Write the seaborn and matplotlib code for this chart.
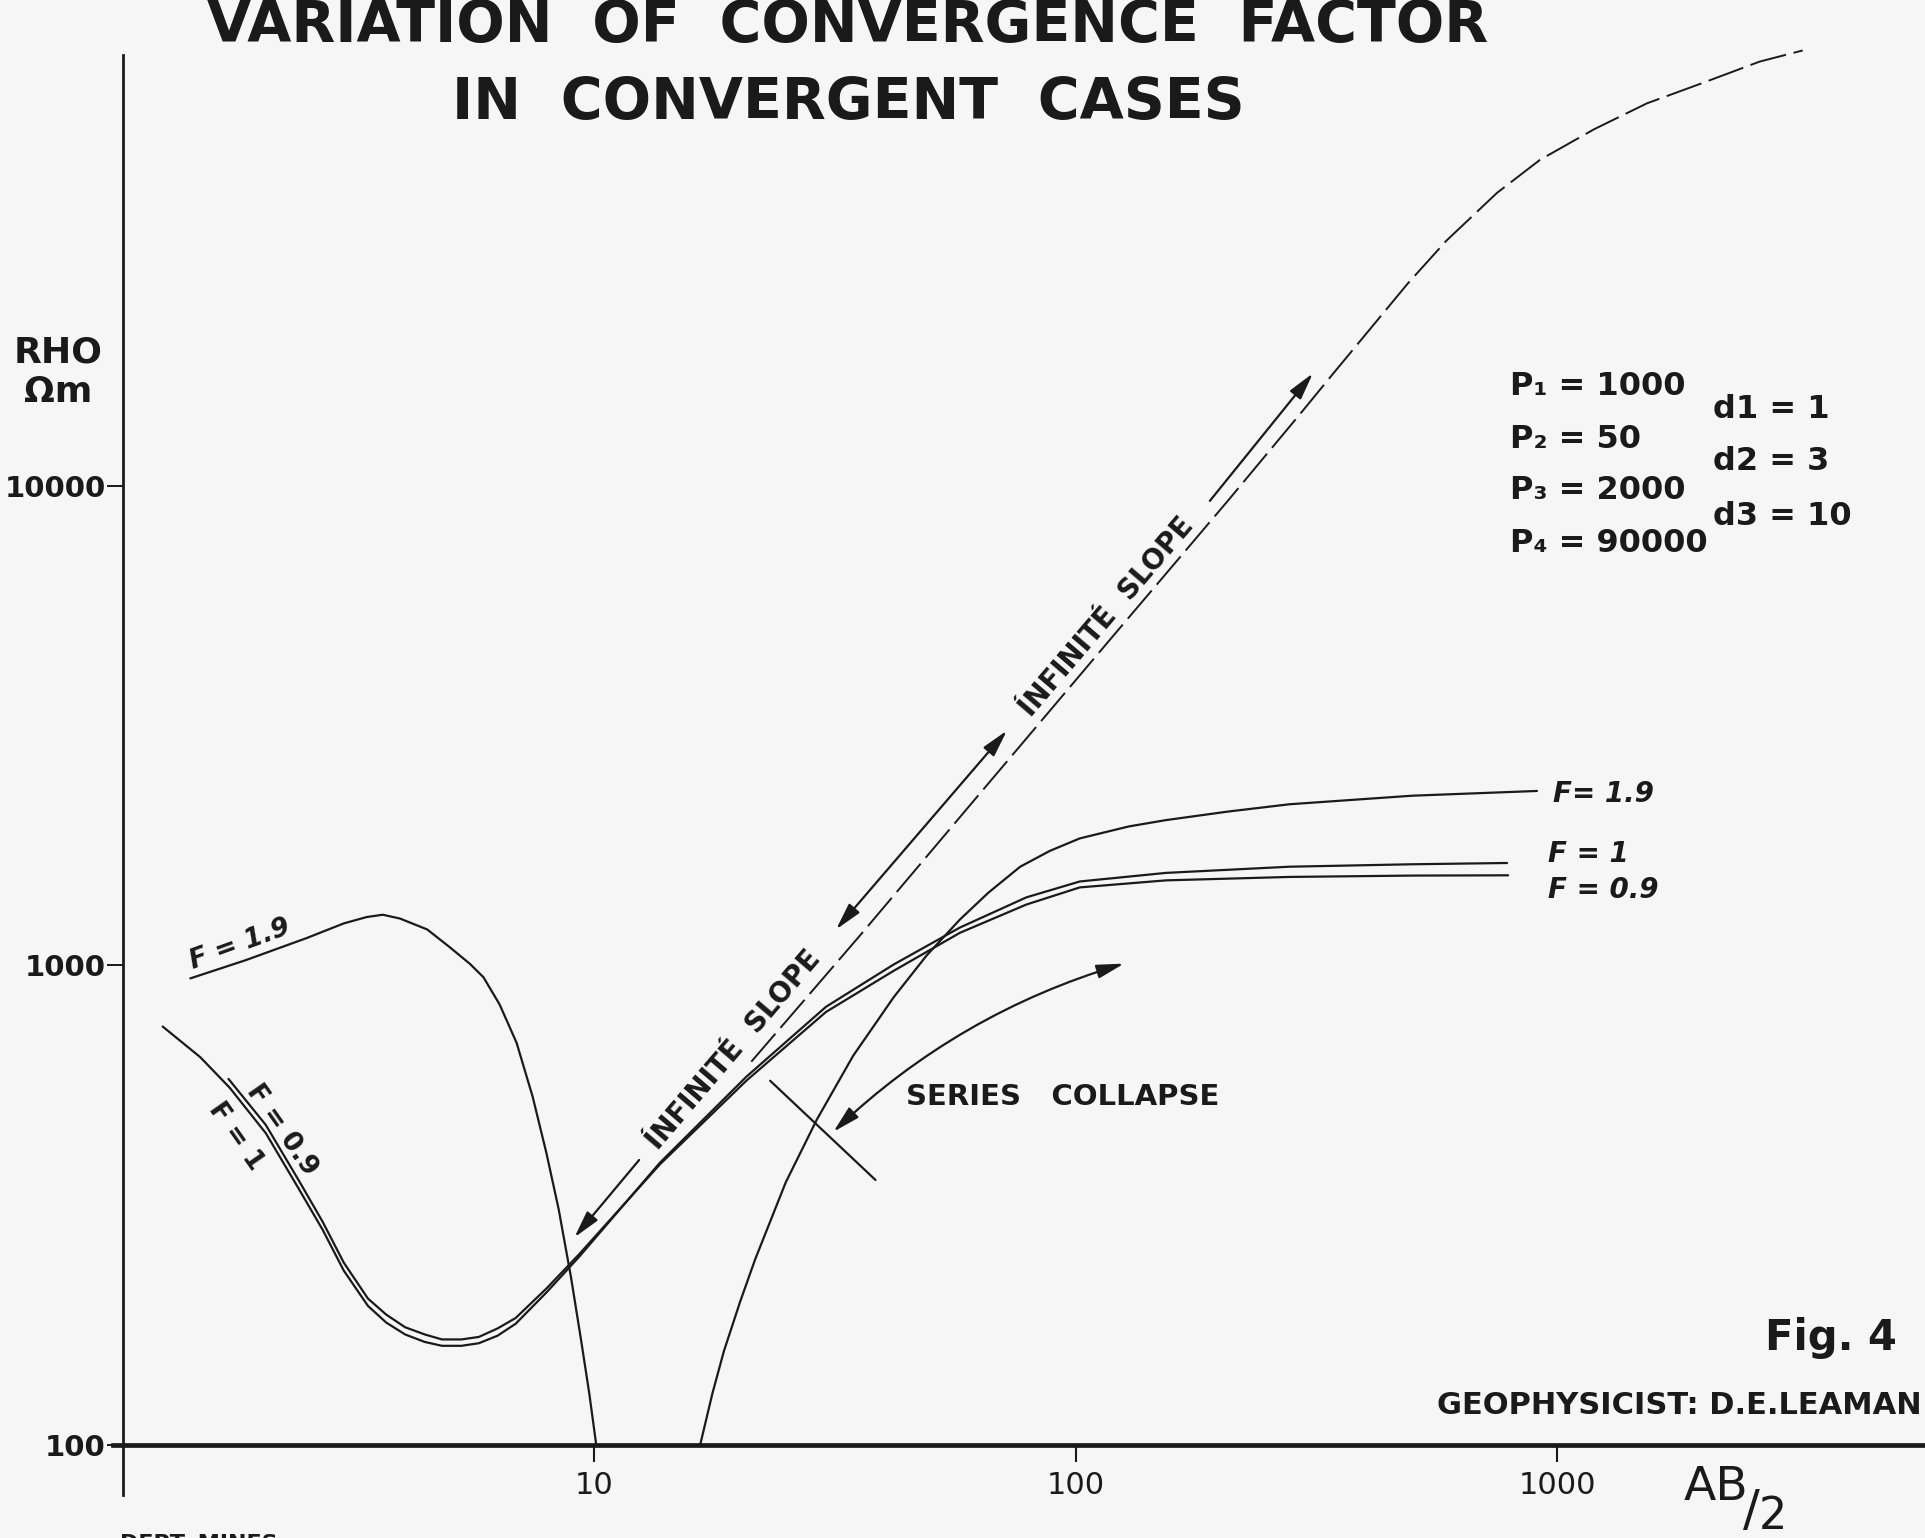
#!/usr/bin/python -tt

"""
Variation of convergence factor, log-log sounding curves (Fig. 4)
"""

import seaborn as sns
import matplotlib.pyplot as plt
from matplotlib.ticker import NullLocator

# AB/2 (m) and apparent resistivity (ohm m)
f19_left_ab = [1.45, 1.89, 2.53, 3.02, 3.37, 3.64, 3.95, 4.50, 5.00, 5.52, 5.89, 6.36,
               6.90, 7.45, 7.96, 8.44, 8.95, 9.38, 9.77, 10.1]
f19_left_rho = [940, 1026, 1141, 1224, 1262, 1276, 1253, 1189, 1094, 1008, 945, 830,
                690, 533, 406, 310, 224, 167, 128, 100]

f19_right_ab = [16.6, 17.6, 18.6, 20.1, 21.6, 25.0, 29.0, 34.5, 41.9, 49.1, 57.5, 65.9,
                76.7, 88.4, 102, 129, 154, 207, 278, 500, 908]
f19_right_rho = [100, 128, 157, 199, 244, 353, 477, 648, 859, 1051, 1247, 1419,
                 1607, 1734, 1841, 1950, 2010, 2094, 2169, 2260, 2312]

f1_ab = [1.27, 1.52, 1.75, 2.08, 2.44, 2.73, 3.02, 3.39, 3.70, 4.05, 4.45, 4.83, 5.30,
         5.76, 6.30, 6.87, 7.96, 9.31, 13.7, 20.7, 30.3, 41.9, 57.5, 79.0, 102, 154,
         278, 500, 787]
f1_rho = [746, 644, 556, 447, 341, 281, 231, 195, 180, 170, 164, 161, 161,
          163, 169, 179, 208, 247, 388, 586, 820, 1005, 1200, 1387, 1497, 1560,
          1607, 1626, 1636]

f09_ab = [1.74, 2.08, 2.44, 2.73, 3.02, 3.39, 3.70, 4.05, 4.45, 4.83, 5.30, 5.76, 6.30,
          6.87, 7.96, 9.31, 13.7, 20.7, 30.3, 41.9, 57.5, 79.0, 102, 154, 278, 500, 791]
f09_rho = [580, 465, 355, 292, 240, 202, 187, 176, 170, 166, 166, 168, 175,
           184, 212, 250, 385, 575, 800, 975, 1170, 1340, 1455, 1505, 1530, 1540, 1542]

# 'infinite slope' asymptote (dashed)
slope_ab = [21.2, 35.6, 64.0, 115, 207, 293, 343, 489, 589, 750, 921, 1193, 1536,
            1987, 2634, 3236]
slope_rho = [630, 1153, 2316, 4645, 9311, 14160, 17180, 26410, 32490, 40860, 47880,
             55460, 62810, 69040, 76760, 80980]

# series collapse marker
collapse_ab = [23.2, 38.4]
collapse_rho = [575, 357]

x_ticks = [10, 100, 1000]
x_tick_labels = ['10', '100', '1000']
y_ticks = [100, 1000, 10000]
y_tick_labels = ['100', '1000', '10000']

params_p = ['P\u2081 = 1000', 'P\u2082 = 50', 'P\u2083 = 2000', 'P\u2084 = 90000']
params_d = ['d1 = 1', 'd2 = 3', 'd3 = 10']


def arrow(ax, head, tail, style='-|>', rad=0.0):
  ax.annotate('', xy=head, xytext=tail,
              arrowprops=dict(arrowstyle=style + ',head_length=1.1,head_width=0.28',
                              lw=1.6, color='k', mutation_scale=15,
                              shrinkA=0, shrinkB=0,
                              connectionstyle=f'arc3,rad={rad}'))


def main():
  sns.set_theme(style='white')
  plt.rcParams['font.family'] = ['DejaVu Sans']
  plt.rcParams['text.color'] = 'k'
  paper = '#f6f6f6'

  fig = plt.figure(figsize=(19.25, 15.38), dpi=100, facecolor=paper)
  ax = fig.add_axes([0, 0, 1, 1])
  ax.set_facecolor(paper)
  ax.set_xscale('log')
  ax.set_yscale('log')

  for ab, rho in [(f19_left_ab, f19_left_rho), (f19_right_ab, f19_right_rho),
                  (f1_ab, f1_rho), (f09_ab, f09_rho), (collapse_ab, collapse_rho)]:
    sns.lineplot(x=ab, y=rho, ax=ax, color='k', lw=1.6, sort=False, estimator=None)
  sns.lineplot(x=slope_ab, y=slope_rho, ax=ax, color='k', lw=1.4, sort=False,
               estimator=None, linestyle=(0, (19, 4)))

  ax.set_xlim(10 ** -0.234, 10 ** 3.764)
  ax.set_ylim(10 ** 1.806, 10 ** 5.0136)

  # axes drawn like the hand-lettered original
  for side in ['top', 'right']:
    ax.spines[side].set_visible(False)
  ax.spines['left'].set_position(('data', 1.05))
  ax.spines['left'].set_bounds(78.7, 79250)
  ax.spines['left'].set_linewidth(2.0)
  ax.spines['left'].set_color('k')
  ax.spines['bottom'].set_position(('data', 100))
  ax.spines['bottom'].set_bounds(1.0, 10 ** 3.764)
  ax.spines['bottom'].set_linewidth(3.4)
  ax.spines['bottom'].set_color('k')

  ax.xaxis.set_minor_locator(NullLocator())
  ax.yaxis.set_minor_locator(NullLocator())
  ax.set_xticks(x_ticks)
  ax.set_xticklabels(x_tick_labels, fontsize=22)
  ax.set_yticks(y_ticks)
  ax.set_yticklabels(y_tick_labels, fontsize=21, fontweight='bold')
  ax.tick_params(axis='x', bottom=True, direction='out', length=12, width=1.5,
                 pad=7, colors='k')
  ax.tick_params(axis='y', left=True, direction='out', length=11.5, width=1.4,
                 pad=1, colors='k')
  ax.set_xlabel('')
  ax.set_ylabel('')

  # 'infinite slope' arrows and lettering
  arrow(ax, (9.10, 271), (12.4, 393))
  arrow(ax, (72.0, 3090), (31.8, 1189), style='<|-|>')
  arrow(ax, (311, 17180), (190, 9311))
  for pos in [(19.5, 667), (116, 5345)]:
    ax.text(pos[0], pos[1], '\u00cdNFINIT\u00c9  SLOPE', rotation=49.5,
            rotation_mode='anchor', ha='center', va='center', fontsize=20,
            fontweight='bold')

  # series collapse
  arrow(ax, (126, 1009), (31.4, 450), style='<|-|>', rad=-0.12)
  fig.text(0.4706, 0.2815, 'SERIES   COLLAPSE', fontsize=21, ha='left',
           va='baseline', fontweight='bold')

  # curve labels
  ax.text(1.84, 1104, 'F = 1.9', rotation=20, rotation_mode='anchor', ha='center',
          va='center', fontsize=19, style='italic', fontweight='bold')
  ax.text(2.25, 454, 'F = 0.9', rotation=-55, rotation_mode='anchor', ha='center',
          va='center', fontsize=19, fontweight='bold')
  ax.text(1.80, 441, 'F = 1', rotation=-55, rotation_mode='anchor', ha='center',
          va='center', fontsize=19, fontweight='bold')
  fig.text(0.8068, 0.4785, 'F= 1.9', fontsize=20, style='italic', va='baseline',
           fontweight='bold')
  fig.text(0.8042, 0.4395, 'F = 1', fontsize=20, style='italic', va='baseline',
           fontweight='bold')
  fig.text(0.8042, 0.4161, 'F = 0.9', fontsize=20, style='italic', va='baseline',
           fontweight='bold')

  # title and lettering
  fig.text(0.4405, 0.9727, 'VARIATION  OF  CONVERGENCE  FACTOR', fontsize=41,
           ha='center', va='baseline', fontweight='bold')
  fig.text(0.4405, 0.9226, 'IN  CONVERGENT  CASES', fontsize=41, ha='center',
           va='baseline', fontweight='bold')
  fig.text(0.030, 0.7646, 'RHO', fontsize=26, ha='center', va='baseline',
           fontweight='bold')
  fig.text(0.030, 0.7386, '\u03a9m', fontsize=26, ha='center', va='baseline',
           fontweight='bold')

  for label, y in zip(params_p, [0.7432, 0.7087, 0.6756, 0.6411]):
    fig.text(0.7844, y, label, fontsize=23, va='baseline', fontweight='bold')
  for label, y in zip(params_d, [0.7282, 0.6944, 0.6586]):
    fig.text(0.8899, y, label, fontsize=23, va='baseline', fontweight='bold')

  fig.text(0.9855, 0.1222, 'Fig. 4', fontsize=30, ha='right', va='baseline',
           fontweight='bold')
  fig.text(0.9984, 0.0806, 'GEOPHYSICIST: D.E.LEAMAN', fontsize=22, ha='right',
           va='baseline', fontweight='bold')
  fig.text(0.8748, 0.0247, 'AB', fontsize=34, va='baseline')
  fig.text(0.9055, 0.0085, '/', fontsize=36, va='baseline')
  fig.text(0.9135, 0.0060, '2', fontsize=32, va='baseline')
  fig.text(0.0623, 0.0026, 'DEPT. MINES', fontsize=16, fontweight='bold', va='top')

  fig.savefig('out.png', dpi=100, facecolor=paper)


if __name__ == '__main__':
  main()
